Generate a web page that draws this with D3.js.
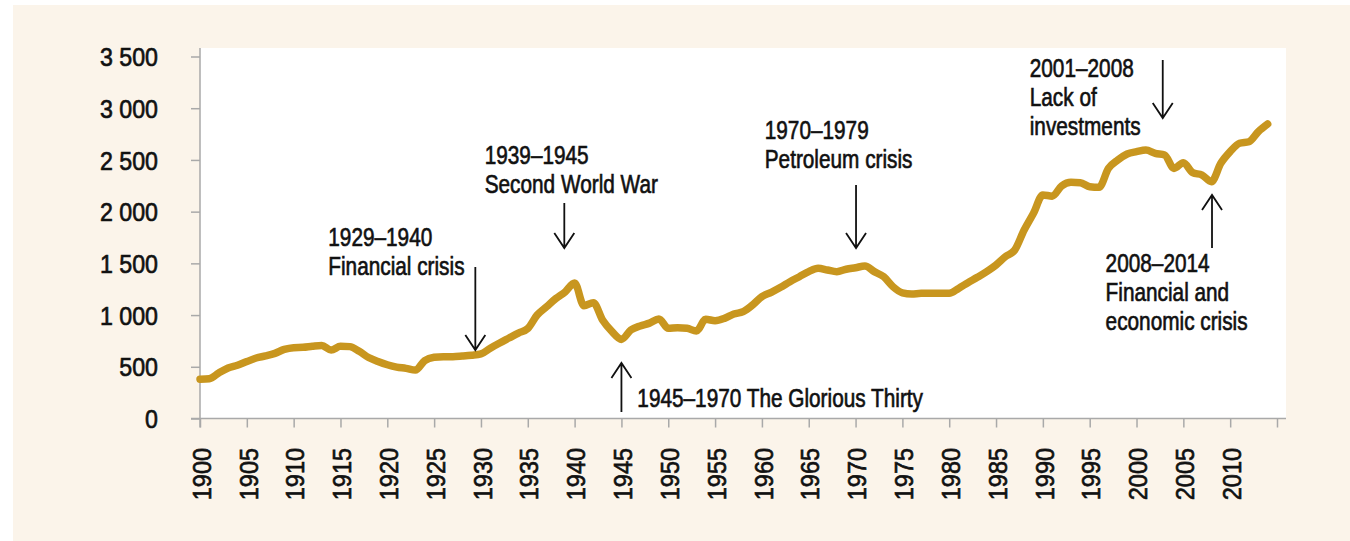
<!DOCTYPE html>
<html lang="en">
<head>
    <meta charset="UTF-8">
    <title>Chart</title>
    <script src="https://d3js.org/d3.v7.min.js"></script>
    <style>
        body { margin: 0; background: #ffffff; }
        text { font-family: "Liberation Sans", Arial, sans-serif; fill: #111; stroke: #111; stroke-width: 0.65px; }
    </style>
</head>
<body>
    <div id="plot"></div>

    <script>
        "use strict";

        // values per year, first year is 1900
        let startYear = 1900;
        let values = [
            380, 385, 440, 488, 515, 550, 585, 605, 630, 668,
            685, 688, 698, 705, 662, 698, 695, 650, 590, 552,
            520, 497, 485, 468, 560, 592, 598, 598, 604, 612,
            625, 680, 730, 778, 826, 870, 1000, 1080, 1160, 1225,
            1310, 1090, 1120, 950, 840, 765, 855, 895, 922, 962,
            872, 878, 872, 846, 959, 946, 968, 1010, 1033, 1097,
            1178, 1220, 1268, 1323, 1371, 1420, 1452, 1436, 1420, 1443,
            1458, 1474, 1420, 1371, 1274, 1215, 1204, 1210, 1210, 1210,
            1210, 1258, 1313, 1365, 1420, 1484, 1565, 1629, 1822, 1984,
            2161, 2150, 2248, 2283, 2280, 2241, 2235, 2418, 2499, 2557,
            2580, 2596, 2564, 2548, 2418, 2473, 2377, 2354, 2290, 2467,
            2580, 2661, 2676, 2773, 2847
        ];

        let yTicks = [0, 500, 1000, 1500, 2000, 2500, 3000, 3500];
        let xTicks = [1900, 1905, 1910, 1915, 1920, 1925, 1930, 1935, 1940, 1945, 1950, 1955,
                      1960, 1965, 1970, 1975, 1980, 1985, 1990, 1995, 2000, 2005, 2010, 2015];
        let xLabelLast = 2010;

        // annotation texts, anchored in data units (year, value)
        let notes = [
            {lines: ['1929\u20131940', 'Financial crisis'], year: 1913.7, value: 1663,
             arrow: {year: 1929.4, from: 1465, to: 662}},
            {lines: ['1939\u20131945', 'Second World War'], year: 1930.4, value: 2461,
             arrow: {year: 1938.9, from: 2084, to: 1648}},
            {lines: ['1945\u20131970 The Glorious Thirty'], year: 1946.7, value: 111,
             arrow: {year: 1945.0, from: 63, to: 537}},
            {lines: ['1970\u20131979', 'Petroleum crisis'], year: 1960.3, value: 2707,
             arrow: {year: 1970.05, from: 2257, to: 1648}},
            {lines: ['2001\u20132008', 'Lack of', 'investments'], year: 1988.6, value: 3302,
             arrow: {year: 2002.8, from: 3466, to: 2905}},
            {lines: ['2008\u20132014', 'Financial and', 'economic crisis'], year: 1996.7, value: 1416,
             arrow: {year: 2008.06, from: 1648, to: 2161}}
        ];

        function translate(x, y){
            return 'translate(' + x + ', ' + y + ')';
        }

        let svgWidth = 1350;
        let svgHeight = 541;
        let plot = {left: 200, right: 1286, top: 48, bottom: 418.5};
        let axisColour = '#a9a9a9';
        let lineColour = '#c8961f';

        let svg = d3.select('#plot')
                    .append('svg')
                    .attr('width', svgWidth)
                    .attr('height', svgHeight);

        // cream frame and white plot panel
        svg.append('rect')
            .attr('x', 13).attr('y', 5)
            .attr('width', svgWidth - 13).attr('height', svgHeight - 5)
            .style('fill', '#fbf4ea');
        svg.append('rect')
            .attr('x', plot.left).attr('y', plot.top)
            .attr('width', plot.right - plot.left).attr('height', plot.bottom - plot.top)
            .style('fill', '#ffffff');

        let x = d3.scaleLinear()
                    .domain([1900, 2015])
                    .range([200, 1277]);
        let y = d3.scaleLinear()
                    .domain([0, 3500])
                    .range([418.5, 56.5]);

        let locale = d3.formatLocale({decimal: '.', thousands: ' ', grouping: [3], currency: ['', '']});
        let fmt = locale.format(',');

        let yAxis = d3.axisLeft(y)
                        .tickValues(yTicks)
                        .tickSize(9)
                        .tickFormat(fmt);
        let xAxis = d3.axisBottom(x)
                        .tickValues(xTicks)
                        .tickSize(9)
                        .tickFormat(d => d <= xLabelLast ? d : '');

        let gy = svg.append('g')
            .attr('transform', translate(plot.left, 0))
            .call(yAxis);
        gy.select('.domain').remove();
        gy.selectAll('line').attr('stroke', axisColour).attr('stroke-width', 1.5);
        gy.selectAll('text')
            .style('font-size', '25.5px')
            .attr('x', 0)
            .attr('dy', '0.36em')
            .attr('transform', 'translate(-42, 0) scale(0.91, 1)');

        let gx = svg.append('g')
            .attr('transform', translate(0, plot.bottom))
            .call(xAxis);
        gx.select('.domain').remove();
        gx.selectAll('line').attr('stroke', axisColour).attr('stroke-width', 1.5);
        gx.selectAll('text')
            .style('font-size', '25.5px')
            .attr('text-anchor', 'end')
            .attr('x', 0)
            .attr('y', 0)
            .attr('dy', '0.36em')
            .attr('transform', 'rotate(-90) translate(-29.5, 1) scale(0.92, 1)');

        // axis lines
        svg.append('line')
            .attr('x1', plot.left).attr('x2', plot.left)
            .attr('y1', plot.top).attr('y2', plot.bottom + 9)
            .attr('stroke', axisColour).attr('stroke-width', 1.5);
        svg.append('line')
            .attr('x1', plot.left - 9).attr('x2', plot.right)
            .attr('y1', plot.bottom).attr('y2', plot.bottom)
            .attr('stroke', axisColour).attr('stroke-width', 1.5);

        let line = d3.line()
                    .x((d, i) => x(startYear + i))
                    .y(d => y(d))
                    .curve(d3.curveMonotoneX);

        svg.append('path')
            .datum(values)
            .attr('d', line)
            .attr('fill', 'none')
            .attr('stroke', lineColour)
            .attr('stroke-width', 7.5)
            .attr('stroke-linejoin', 'round')
            .attr('stroke-linecap', 'round');

        // annotations
        let lineGap = 29;
        notes.forEach(n => {
            let t = svg.append('text')
                .attr('transform', translate(x(n.year), y(n.value)) + ' scale(0.815, 1)')
                .style('font-size', '25.5px');
            n.lines.forEach((s, i) => {
                t.append('tspan')
                    .attr('x', 0)
                    .attr('dy', i === 0 ? 0 : lineGap)
                    .text(s);
            });

            let ax = x(n.arrow.year);
            let y1 = y(n.arrow.from);
            let y2 = y(n.arrow.to);
            let dir = y2 > y1 ? -1 : 1;
            svg.append('path')
                .attr('d', 'M' + ax + ',' + y1 + 'L' + ax + ',' + y2 +
                           'M' + (ax - 10) + ',' + (y2 + dir * 15) + 'L' + ax + ',' + y2 +
                           'L' + (ax + 10) + ',' + (y2 + dir * 15))
                .attr('fill', 'none')
                .attr('stroke', '#111')
                .attr('stroke-width', 1.8);
        });
    </script>
</body>
</html>
